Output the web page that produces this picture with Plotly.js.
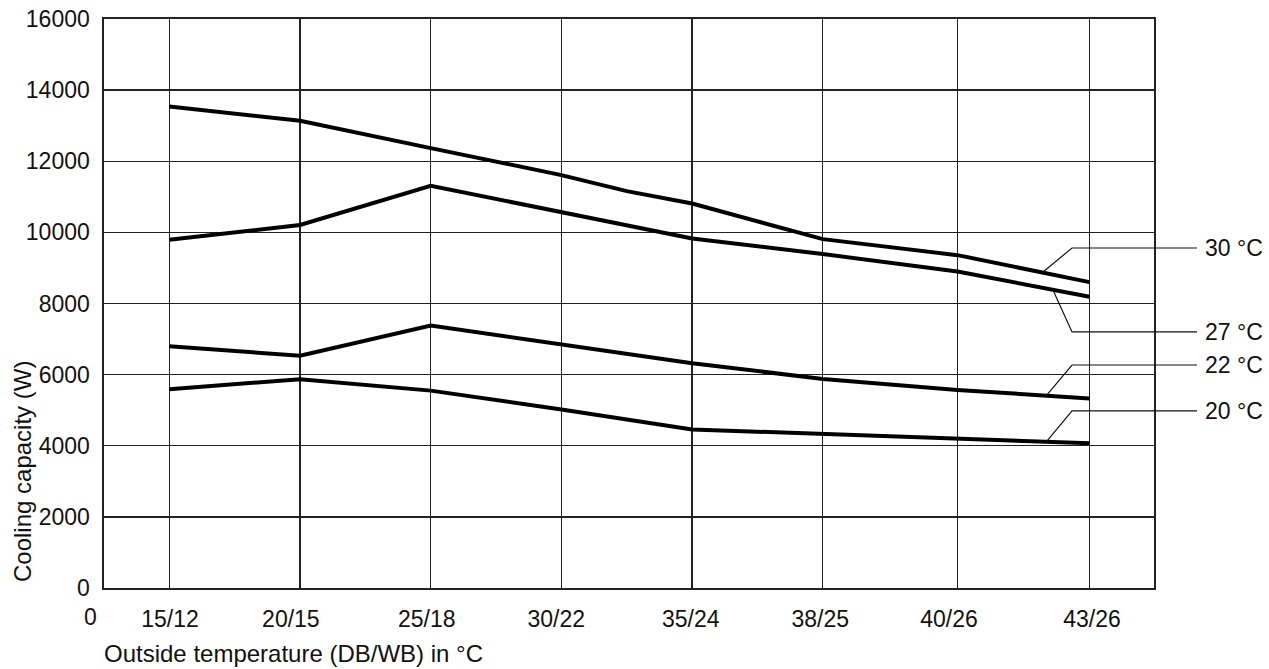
<!DOCTYPE html>
<html>
<head>
<meta charset="utf-8">
<script src="https://cdn.plot.ly/plotly-3.0.1.min.js"></script>
<style>html,body{margin:0;padding:0;background:#fff;}#chart{width:1269px;height:669px;}</style>
</head>
<body>
<div id="chart"></div>
<script>
// Categories (outside temperature DB/WB) and their positions on the x scale
const categories = ['15/12','20/15','25/18','30/22','35/24','38/25','40/26','43/26'];
const gridPos    = [0.5, 1.5, 2.5, 3.5, 4.5, 5.5, 6.53, 7.54];
const labelPos   = [0.505, 1.43, 2.47, 3.46, 4.49, 5.48, 6.465, 7.56];

// Cooling capacity (W) per indoor temperature curve
const x30 = [0.5, 1.5, 2.5, 3.5, 4.0, 4.5, 5.5, 6.53, 7.54];
const y30 = [13540, 13140, 12370, 11610, 11160, 10810, 9810, 9360, 8600];
const x27 = gridPos;
const y27 = [9790, 10210, 11310, 10580, 9830, 9390, 8900, 8190];
const x22 = gridPos;
const y22 = [6800, 6530, 7380, 6850, 6320, 5880, 5570, 5330];
const x20 = gridPos;
const y20 = [5590, 5870, 5550, 5020, 4460, 4330, 4190, 4070];

const seriesNames = ['30 °C', '27 °C', '22 °C', '20 °C'];
const leaderAnchorX = [7.18, 7.26, 7.21, 7.21];
const leaderLabelY = [9560, 7200, 6270, 4980];

const X_MAX = 8.034, Y_MAX = 16000;
const font = 'Liberation Sans, Arial, sans-serif';
const FS = 23;      // tick + curve labels
const FT = 24;      // axis titles

const seriesX = [x30, x27, x22, x20];
const seriesY = [y30, y27, y22, y20];

function interp(xs, ys, x) {
  for (let i = 0; i < xs.length - 1; i++) {
    if (x >= xs[i] && x <= xs[i + 1]) {
      const t = (x - xs[i]) / (xs[i + 1] - xs[i]);
      return ys[i] + t * (ys[i + 1] - ys[i]);
    }
  }
  return ys[ys.length - 1];
}

const traces = seriesNames.map((n, i) => ({
  type: 'scatter', mode: 'lines', name: n,
  x: seriesX[i], y: seriesY[i],
  line: {color: '#000', width: 4},
  xaxis: 'x', yaxis: 'y', hoverinfo: 'skip'
}));
// helper trace to activate overlay axis carrying the category tick labels
traces.push({type: 'scatter', mode: 'lines', x: [0], y: [0], xaxis: 'x2', yaxis: 'y',
  showlegend: false, hoverinfo: 'skip', line: {width: 0}});

const elbowPx = 1072, endPx = 1197, textPx = 1203, leftPx = 104, plotW = 1050;
const shapes = [], annotations = [];
seriesNames.forEach((n, i) => {
  const ax = leaderAnchorX[i] / X_MAX;
  const ay = interp(seriesX[i], seriesY[i], leaderAnchorX[i]) / Y_MAX;
  const ex = (elbowPx - leftPx) / plotW;
  const fx = (endPx - leftPx) / plotW;
  const ly = leaderLabelY[i] / Y_MAX;
  shapes.push({type: 'path', xref: 'paper', yref: 'paper',
    path: `M ${ax} ${ay} L ${ex} ${ly} L ${fx} ${ly}`,
    line: {color: '#111', width: 1.2}});
  annotations.push({xref: 'paper', yref: 'paper', x: (textPx - leftPx) / plotW, y: ly,
    xanchor: 'left', yanchor: 'middle', text: n, showarrow: false,
    font: {family: font, size: FS, color: '#111'}});
});

annotations.push({xref: 'paper', yref: 'paper', x: (90 - leftPx) / plotW, y: (588 - 617) / 569,
  xanchor: 'center', yanchor: 'middle', text: '0', showarrow: false,
  font: {family: font, size: FS, color: '#111'}});
annotations.push({xref: 'paper', yref: 'paper', x: (102 - leftPx) / plotW, y: (588 - 653) / 569,
  xanchor: 'left', yanchor: 'middle', text: 'Outside temperature (DB/WB) in °C', showarrow: false,
  font: {family: font, size: FT, color: '#111'}});
annotations.push({xref: 'paper', yref: 'paper', x: (22 - leftPx) / plotW, y: (588 - 472) / 569,
  xanchor: 'center', yanchor: 'middle', textangle: -90, text: 'Cooling capacity (W)', showarrow: false,
  font: {family: font, size: FT, color: '#111'}});

const layout = {
  width: 1269, height: 669,
  margin: {l: 104, r: 115, t: 19, b: 81, pad: 0},
  paper_bgcolor: '#fff', plot_bgcolor: '#fff',
  showlegend: false,
  font: {family: font, size: FS, color: '#111'},
  xaxis: {
    range: [0, X_MAX], tickmode: 'array', tickvals: gridPos, ticktext: categories.map(() => ''),
    showticklabels: false, showgrid: true, gridcolor: '#222', gridwidth: 1.3,
    showline: true, mirror: true, linecolor: '#222', linewidth: 1.6, zeroline: false, ticks: ''
  },
  xaxis2: {
    overlaying: 'x', anchor: 'y', side: 'bottom', range: [0, X_MAX],
    tickmode: 'array', tickvals: labelPos, ticktext: categories,
    showgrid: false, showline: false, zeroline: false, ticks: '',
    ticklabelstandoff: 15,
    tickfont: {family: font, size: FS, color: '#111'}
  },
  yaxis: {
    range: [0, Y_MAX], dtick: 2000, tick0: 0, tickformat: 'd',
    showgrid: true, gridcolor: '#222', gridwidth: 1.3,
    showline: true, mirror: true, linecolor: '#222', linewidth: 1.6, zeroline: false,
    ticks: '', ticklabelstandoff: 8,
    tickfont: {family: font, size: FS, color: '#111'}
  },
  shapes: shapes,
  annotations: annotations
};

Plotly.newPlot('chart', traces, layout, {staticPlot: true, displayModeBar: false});
</script>
</body>
</html>
